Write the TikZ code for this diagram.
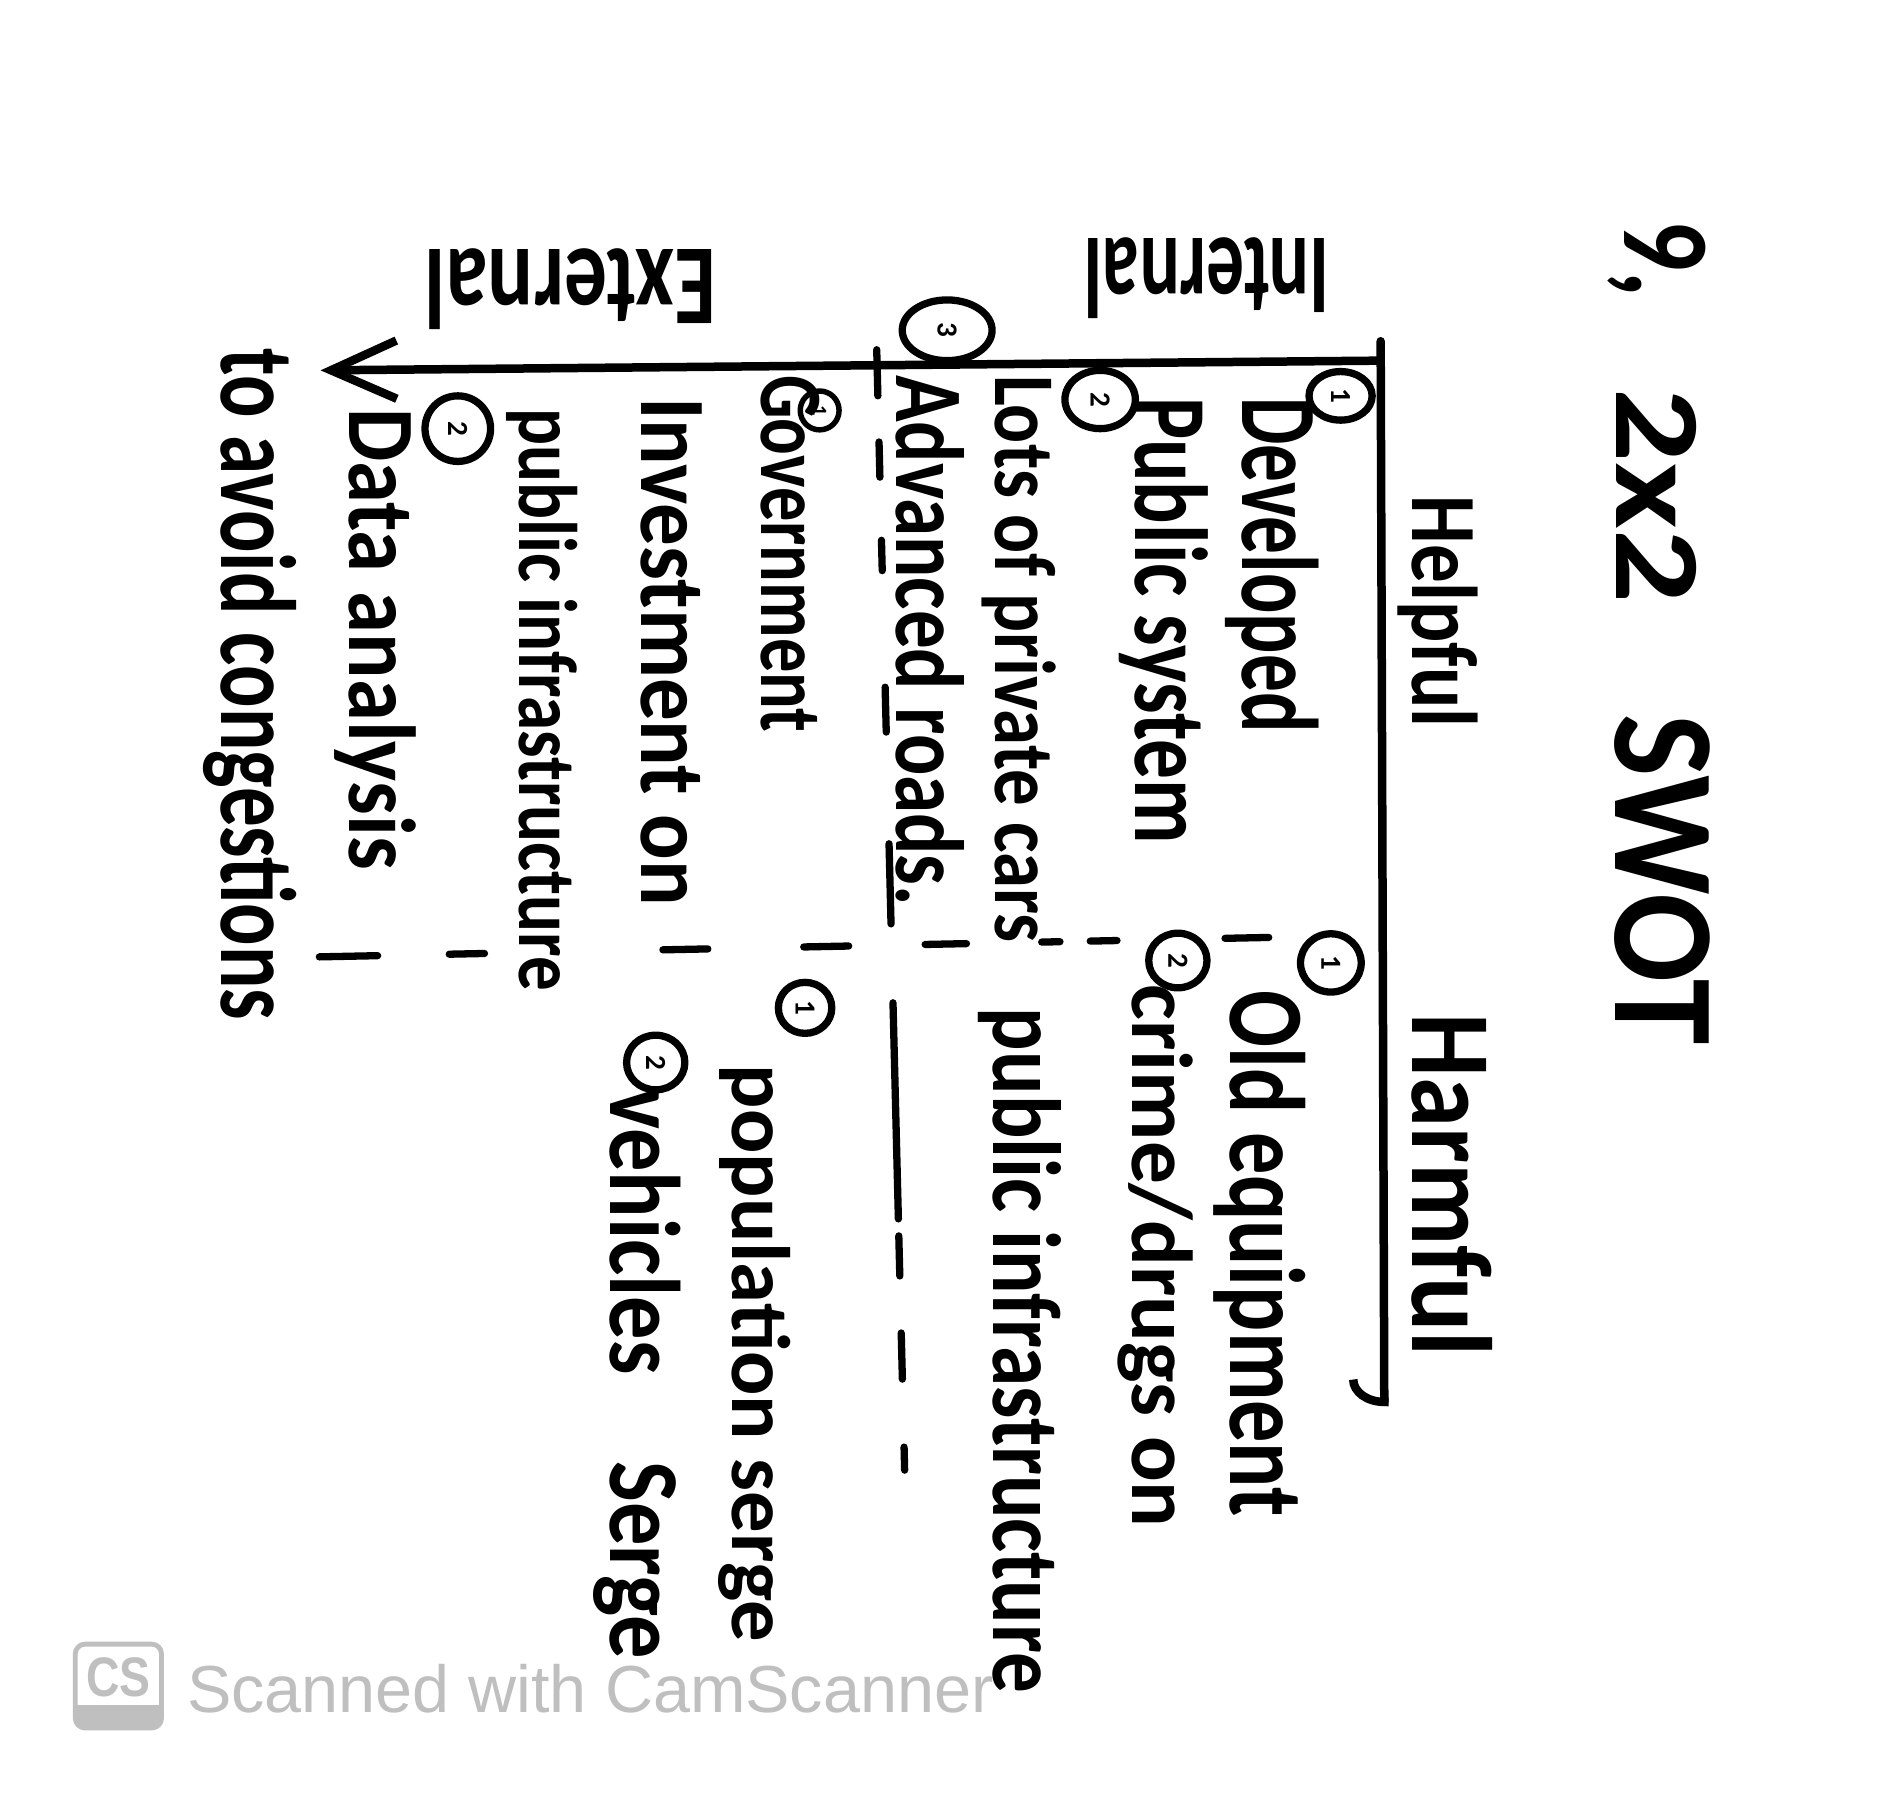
\documentclass[tikz,border=0pt]{standalone}
\usepackage{fontspec}
\usepackage{graphicx}
\setmainfont{Carlito}
\newfontfamily\scanfont{Liberation Sans}
\usetikzlibrary{arrows.meta,shapes.geometric}
\definecolor{scangray}{RGB}{191,191,191}
\newcommand{\hand}[3]{\resizebox{#1pt}{#2pt}{\bfseries #3}}

\begin{document}
\begin{tikzpicture}[x=1pt, y=-1pt, line cap=round, line join=round,
  every node/.style={inner sep=0pt, outer sep=0pt},
  entry/.style={rotate=-90, anchor=base west},
  axislabel/.style={rotate=180},
  num/.style={ellipse, draw, line width=6pt, minimum width=46pt, minimum height=46pt, rotate=-90, font=\bfseries\fontsize{24}{24}\selectfont},
  axis/.style={line width=7pt},
  divider/.style={line width=6pt}]
  \useasboundingbox (0,0) rectangle (1568,1479);
  \fill[white] (0,0) rectangle (1568,1479);

  \node[entry] (titlenum) at (1338,182) {\hand{63}{67}{9,}};
  \node[entry] (titlegrid) at (1331,320) {\hand{177}{66}{2x2}};
  \node[entry] (titleswot) at (1330,588) {\hand{272}{78}{SWOT}};

  \coordinate (corner) at (1137,297);
  \coordinate (ytop) at (1137,281);
  \coordinate (xend) at (264,305);
  \coordinate (hend) at (1140,1158);
  \draw[axis, -{Straight Barb[length=54pt, width=48pt]}] (corner) -- (xend);
  \draw[axis, -{Arc Barb[length=22pt, width=58pt, right]}] (ytop) -- (hend);

  \node[axislabel] (internal) at (994,229) {\hand{202}{66}{Internal}};
  \node[axislabel] (external) at (470,238) {\hand{240}{66}{External}};
  \node[entry] (helpful) at (1163,408) {\hand{191}{54}{Helpful}};
  \node[entry] (harmful) at (1163,835) {\hand{282}{66}{Harmful}};

  \coordinate (d1a) at (263,788);
  \coordinate (d1b) at (1045,772);
  \coordinate (d2a) at (722,288);
  \coordinate (d2b) at (745,1211);
  \draw[divider, dash pattern=on 48pt off 59pt on 29pt off 147pt on 37pt off 79pt on 37pt off 63pt on 34pt off 62pt on 15pt off 25pt on 22pt off 89pt on 36pt] (d1a) -- (d1b);
  \draw[divider, dash pattern=on 38pt off 38pt on 29pt off 52pt on 25pt off 96pt on 37pt off 92pt on 66pt off 65pt on 178pt off 14pt on 33pt off 47pt on 38pt off 56pt on 19pt] (d2a) -- (d2b);

  \node[num, minimum width=40pt, minimum height=52pt] (s1) at (1104,326) {1};
  \node[entry] (developed) at (1023,327) {\hand{276}{63}{Developed}};
  \node[entry] (pubsys) at (935,327) {\hand{368}{60}{Public system}};
  \node[num, minimum width=48pt, minimum height=58pt] (s2) at (906,329) {2};
  \node[entry] (cars) at (820,309) {\hand{467}{50}{Lots of private cars}};
  \node[num, minimum width=50pt, minimum height=74pt] (s3) at (780,272) {3};
  \node[entry] (roads) at (738,309) {\hand{437}{56}{Advanced roads.}};

  \node[num, minimum width=48pt, minimum height=50pt] (w1) at (1096,793) {1};
  \node[entry] (equip) at (1013,816) {\hand{433}{62}{Old equipment}};
  \node[num, minimum width=45pt, minimum height=48pt] (w2) at (970,791) {2};
  \node[entry] (crime) at (933,811) {\hand{447}{50}{crime/drugs on}};
  \node[entry] (infraw) at (818,830) {\hand{564}{56}{public infrastructure}};

  \node[num, minimum width=32pt, minimum height=32pt, line width=4.5pt, font=\bfseries\fontsize{17}{17}\selectfont] (o1) at (675,338) {1};
  \node[entry] (govt) at (627,309) {\hand{294}{48}{Government}};
  \node[entry] (invest) at (528,327) {\hand{419}{50}{Investment on}};
  \node[entry] (infrao) at (428,336) {\hand{480}{48}{public infrastructure}};
  \node[num, minimum width=54pt, minimum height=54pt] (o2) at (377,353) {2};
  \node[entry] (data) at (288,336) {\hand{380}{55}{Data analysis}};
  \node[entry] (congest) at (182,287) {\hand{553}{62}{to avoid congestions}};

  \node[num, minimum width=42pt, minimum height=44pt] (t1) at (663,830) {1};
  \node[entry] (popul) at (603,877) {\hand{475}{48}{population serge}};
  \node[num, minimum width=45pt, minimum height=48pt] (t2) at (540,875) {2};
  \node[entry] (vehic) at (503,896) {\hand{470}{58}{vehicles\quad Serge}};

  \begin{scope}
    \clip[rounded corners=8pt] (62,1354) rectangle (133,1423);
    \fill[scangray] (62,1404) rectangle (133,1423);
  \end{scope}
  \draw[scangray, line width=4pt, rounded corners=8pt] (62,1354) rectangle (133,1423);
  \node[text=scangray, font=\scanfont\bfseries] (cslogo) at (97.5,1381) {\resizebox{53pt}{32pt}{CS}};
  \node[anchor=base west, text=scangray, font=\scanfont] (scanner) at (154,1410) {\resizebox{664pt}{!}{Scanned with CamScanner}};
\end{tikzpicture}
\end{document}
